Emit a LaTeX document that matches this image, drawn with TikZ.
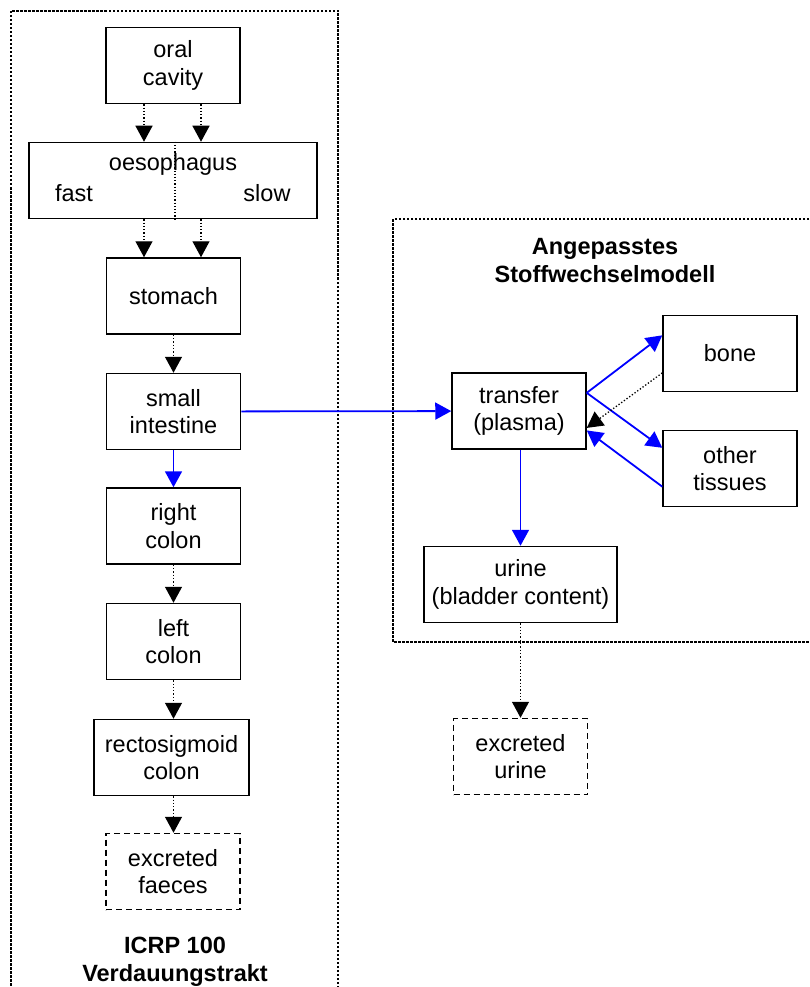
\documentclass[tikz,border=0pt]{standalone}
\usepackage{fontspec}
\setmainfont{Liberation Sans}
\usepackage{tikz}
\usetikzlibrary{positioning}
\usetikzlibrary{arrows.meta}
\usetikzlibrary{calc}

\begin{document}
\begin{tikzpicture}[x=1pt,y=-1pt,font=\fontsize{23.5}{27.5}\selectfont]
	\useasboundingbox (0,0) rectangle (810,987);

	% the two dotted frames
	\begin{scope}[line width=2.5pt, dash pattern=on 2.5pt off 1.5pt]
	    \draw (11,11) rectangle (338,1000);
	    \draw (393,219) rectangle (820,642);
	\end{scope}

	\begin{scope}[every node/.style={draw,rectangle,line width=1.5pt,align=center,
	              inner sep=0pt,minimum width=134pt,minimum height=76pt}]
	    \node (oral) at (173,65.5) {oral\\cavity};
	    \node[minimum width=288pt] (oeso) at (173,180.5) {};
	    \node (stom) at (173.5,296) {stomach};
	    \node (small) at (173.5,411.5) {small\\intestine};
	    \node (right) at (173.5,526) {right\\colon};
	    \node (left) at (173.5,641.5) {left\\colon};
	    \node[minimum width=155pt] (recto) at (171.5,757.5) {rectosigmoid\\colon};
	    \node[dashed,dash pattern=on 6pt off 4pt] (faeces) at (173,871.5) {excreted\\faeces};
	    \node (transfer) at (519,411) {transfer\\(plasma)};
	    \node (bone) at (730,353.5) {bone};
	    \node (other) at (730,468.5) {other\\tissues};
	    \node[minimum width=193pt] (urine) at (520.5,584.5) {urine\\(bladder content)};
	    \node[dashed,dash pattern=on 6pt off 4pt] (exurine) at (520.5,756.5) {excreted\\urine};
	\end{scope}

	% texts without box
	\begin{scope}[every node/.style={inner sep=0pt,align=center}]
	    \node[anchor=base] (oesotxt) at (173,171) {oesophagus};
	    \node[anchor=base] (fast) at (74,201) {fast};
	    \node[anchor=base] (slow) at (267,201) {slow};
	    \node[anchor=north,font=\fontsize{23.5}{28.5}\selectfont\bfseries] (gitract) at (175,936.5) {ICRP 100\\Verdauungstrakt};
	    \node[anchor=north,font=\fontsize{23.5}{28}\selectfont\bfseries] (metab) at (605,238.5) {Angepasstes\\Stoffwechselmodell};
	\end{scope}

	\coordinate (fastx) at (144,0);
	\coordinate (slowx) at (201,0);
	\draw[line width=1.2pt, dash pattern=on 1.2pt off 2pt] (oeso.north -| 175,0) -- (oeso.south -| 175,0);

	\begin{scope}[>={Triangle[length=16pt,width=17pt]},
	              every edge/.style={draw=blue,line width=1.8pt},
	              dotline/.style={draw=black,line width=1.3pt,dash pattern=on 1.3pt off 2pt}]
    	\path [->] (oral.south -| fastx) edge[dotline] (oeso.north -| fastx);
    	\path [->] (oral.south -| slowx) edge[dotline] (oeso.north -| slowx);
    	\path [->] (oeso.south -| fastx) edge[dotline] (stom.north -| fastx);
    	\path [->] (oeso.south -| slowx) edge[dotline] (stom.north -| slowx);
    	\path [->] (stom) edge[dotline] (small);
    	\path [->] (small) edge (right);
    	\path [->] (right) edge[dotline] (left);
    	\path [->] (left.south) edge[dotline] (left.south |- recto.north);
    	\path [->] (left.south |- recto.south) edge[dotline] (faeces.north -| left.south);
    	\path [->] (small) edge (transfer);
    	\path [->] (transfer.15) edge (bone.165);
    	\path [->] (transfer.15) edge (other.163);
    	\path [->] (other.195) edge (transfer.344);
    	\path [->] (bone.196) edge[dotline] (transfer.346);
    	\path [->] (transfer.south -| urine.north) edge (urine.north);
    	\path [->] (urine) edge[dotline] (exurine);
	\end{scope}
\end{tikzpicture}
\end{document}
